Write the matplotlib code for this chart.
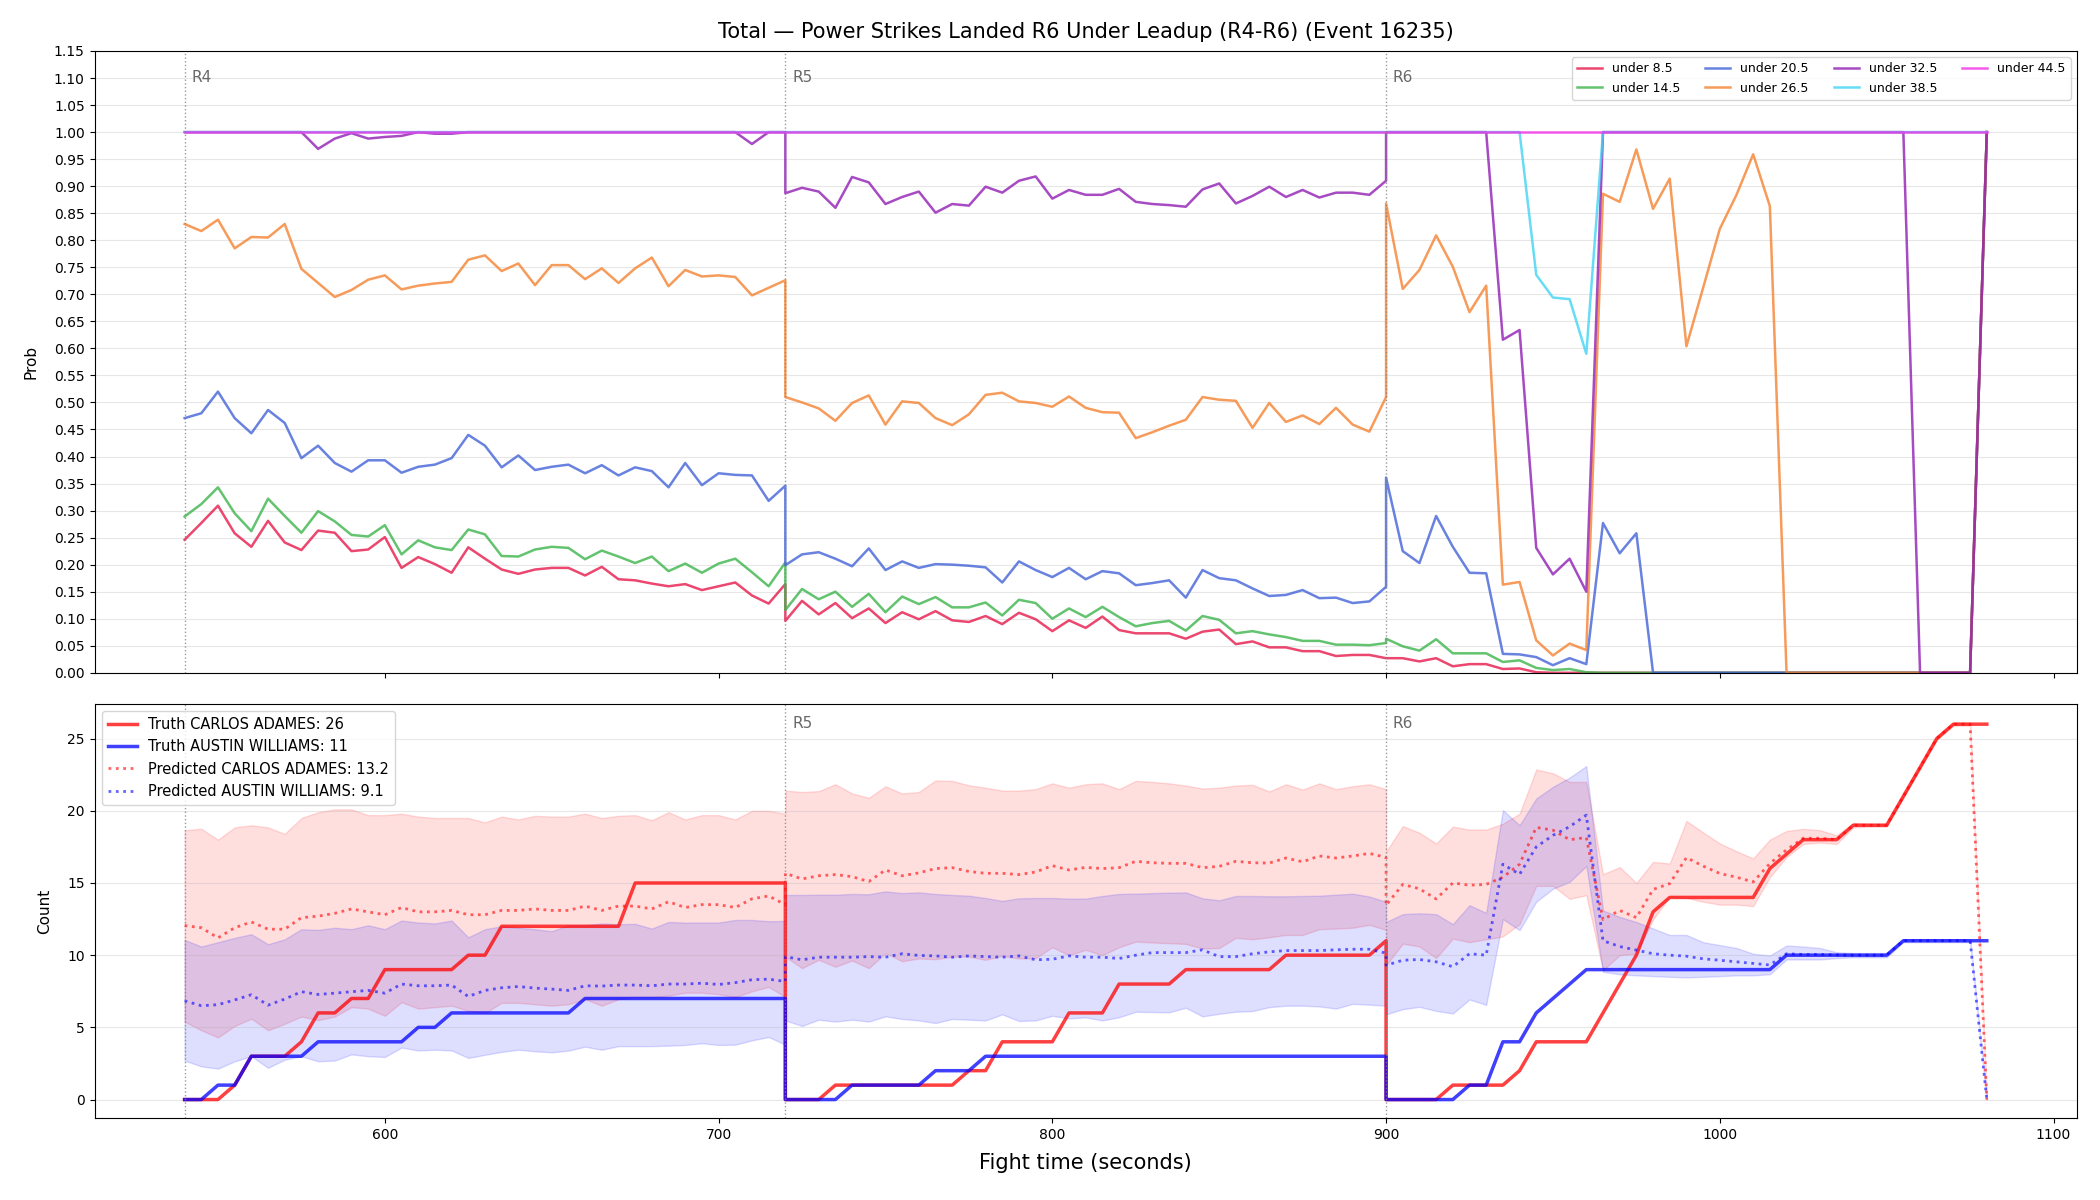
import numpy as np
import matplotlib
matplotlib.use("Agg")
import matplotlib.pyplot as plt
from matplotlib.transforms import blended_transform_factory

# ---------------- time grid ----------------
ROUND_STARTS = [540, 720, 900]
ROUND_NAMES = ["R4", "R5", "R6"]
STEP = 5
PTS_PER_ROUND = 37

# ---------------- top panel: P(total under X) ----------------
u85_r4 = [0.246, 0.277, 0.309, 0.258, 0.233, 0.281, 0.241, 0.227, 0.263, 0.259, 0.225, 0.228, 0.251,
          0.194, 0.214, 0.201, 0.185, 0.232, 0.211, 0.191, 0.183, 0.191, 0.194, 0.194, 0.180, 0.196,
          0.173, 0.171, 0.165, 0.160, 0.164, 0.153, 0.160, 0.167, 0.143, 0.128, 0.164]
u85_r5 = [0.096, 0.133, 0.108, 0.129, 0.101, 0.119, 0.092, 0.112, 0.099, 0.114, 0.097, 0.094, 0.105,
          0.090, 0.111, 0.099, 0.077, 0.097, 0.083, 0.104, 0.079, 0.073, 0.073, 0.073, 0.063, 0.076,
          0.080, 0.053, 0.058, 0.047, 0.047, 0.040, 0.040, 0.031, 0.033, 0.033, 0.027]
u85_r6 = [0.027, 0.027, 0.021, 0.027, 0.012, 0.016, 0.016, 0.007, 0.008, 0.001] + [0.0] * 26 + [1.0]

u145_r4 = [0.289, 0.312, 0.343, 0.295, 0.262, 0.322, 0.290, 0.259, 0.299, 0.280, 0.255, 0.252, 0.273,
           0.219, 0.245, 0.232, 0.227, 0.265, 0.256, 0.216, 0.215, 0.228, 0.233, 0.231, 0.210, 0.226,
           0.215, 0.203, 0.215, 0.188, 0.202, 0.185, 0.202, 0.211, 0.186, 0.160, 0.204]
u145_r5 = [0.116, 0.155, 0.136, 0.150, 0.122, 0.146, 0.112, 0.141, 0.127, 0.140, 0.121, 0.121, 0.130,
           0.106, 0.135, 0.129, 0.100, 0.119, 0.103, 0.122, 0.103, 0.086, 0.092, 0.096, 0.078, 0.105,
           0.098, 0.073, 0.077, 0.071, 0.066, 0.059, 0.059, 0.052, 0.052, 0.051, 0.055]
u145_r6 = [0.063, 0.049, 0.041, 0.062, 0.036, 0.036, 0.036, 0.020, 0.023, 0.009, 0.005, 0.007, 0.001] \
          + [0.0] * 23 + [1.0]

u205_r4 = [0.471, 0.480, 0.520, 0.471, 0.443, 0.486, 0.462, 0.397, 0.420, 0.388, 0.372, 0.393, 0.393,
           0.370, 0.381, 0.385, 0.397, 0.440, 0.420, 0.380, 0.402, 0.375, 0.381, 0.385, 0.369, 0.384,
           0.365, 0.380, 0.373, 0.343, 0.388, 0.347, 0.369, 0.366, 0.365, 0.318, 0.346]
u205_r5 = [0.199, 0.219, 0.223, 0.211, 0.197, 0.230, 0.190, 0.206, 0.194, 0.201, 0.200, 0.198, 0.195,
           0.167, 0.206, 0.190, 0.177, 0.194, 0.173, 0.188, 0.184, 0.162, 0.166, 0.171, 0.139, 0.190,
           0.175, 0.171, 0.156, 0.142, 0.144, 0.153, 0.138, 0.139, 0.129, 0.132, 0.159]
u205_r6 = [0.361, 0.225, 0.203, 0.290, 0.233, 0.185, 0.184, 0.035, 0.034, 0.029, 0.014, 0.027, 0.016,
           0.277, 0.221, 0.258] + [0.0] * 20 + [1.0]

u265_r4 = [0.830, 0.817, 0.838, 0.785, 0.806, 0.805, 0.830, 0.747, 0.721, 0.695, 0.708, 0.727, 0.735,
           0.709, 0.716, 0.720, 0.723, 0.764, 0.772, 0.743, 0.757, 0.717, 0.754, 0.754, 0.728, 0.748,
           0.721, 0.748, 0.768, 0.715, 0.745, 0.733, 0.735, 0.732, 0.698, 0.712, 0.726]
u265_r5 = [0.510, 0.500, 0.489, 0.466, 0.499, 0.513, 0.459, 0.502, 0.499, 0.471, 0.458, 0.478, 0.514,
           0.518, 0.502, 0.499, 0.492, 0.511, 0.490, 0.482, 0.481, 0.434, 0.445, 0.457, 0.468, 0.510,
           0.505, 0.503, 0.453, 0.499, 0.464, 0.476, 0.460, 0.490, 0.459, 0.446, 0.510]
u265_r6 = [0.868, 0.710, 0.745, 0.809, 0.751, 0.667, 0.716, 0.163, 0.168, 0.060, 0.032, 0.054, 0.042,
           0.886, 0.871, 0.968, 0.858, 0.914, 0.604, 0.712, 0.821, 0.884, 0.959, 0.863] + [0.0] * 12 + [1.0]

u325_r4 = [1.0] * 8 + [0.969, 0.988, 0.998, 0.988, 0.991, 0.993, 1.0, 0.997, 0.997] + [1.0] * 17 \
          + [0.978, 1.0, 1.0]
u325_r5 = [0.887, 0.897, 0.890, 0.860, 0.917, 0.907, 0.867, 0.880, 0.890, 0.851, 0.867, 0.864, 0.899,
           0.888, 0.910, 0.918, 0.877, 0.893, 0.884, 0.884, 0.895, 0.871, 0.867, 0.865, 0.862, 0.894,
           0.905, 0.868, 0.882, 0.899, 0.880, 0.893, 0.879, 0.888, 0.888, 0.884, 0.910]
u325_r6 = [1.0] * 7 + [0.616, 0.634, 0.231, 0.182, 0.211, 0.150] + [1.0] * 19 + [0.0] * 4 + [1.0]

u385_r4 = [1.0] * 37
u385_r5 = [1.0] * 37
u385_r6 = [1.0] * 9 + [0.736, 0.694, 0.691, 0.590] + [1.0] * 24

u445_r4 = [1.0] * 37
u445_r5 = [1.0] * 37
u445_r6 = [1.0] * 37

PROB_SERIES = [u85_r4 + u85_r5 + u85_r6,
               u145_r4 + u145_r5 + u145_r6,
               u205_r4 + u205_r5 + u205_r6,
               u265_r4 + u265_r5 + u265_r6,
               u325_r4 + u325_r5 + u325_r6,
               u385_r4 + u385_r5 + u385_r6,
               u445_r4 + u445_r5 + u445_r6]
PROB_LABELS = ["under 8.5", "under 14.5", "under 20.5", "under 26.5",
               "under 32.5", "under 38.5", "under 44.5"]
PROB_COLORS = ["#e6194b", "#3cb44b", "#4363d8", "#f58231", "#911eb4", "#42d4f4", "#f032e6"]

# ---------------- bottom panel: counts ----------------
truth_a_r4 = [0, 0, 0, 1, 3, 3, 3, 4, 6, 6, 7, 7, 9, 9, 9, 9, 9, 10, 10] + [12] * 8 + [15] * 10
truth_a_r5 = [0, 0, 0] + [1] * 8 + [2, 2] + [4] * 4 + [6] * 3 + [8] * 4 + [9] * 6 + [10] * 6 + [11]
truth_a_r6 = [0] * 4 + [1] * 4 + [2] + [4] * 4 + [6, 8, 10, 13] + [14] * 6 + [16, 17, 18, 18, 18,
                                                                             19, 19, 19, 21, 23, 25, 26, 26, 26]
truth_b_r4 = [0, 0, 1, 1] + [3] * 4 + [4] * 6 + [5, 5] + [6] * 8 + [7] * 13
truth_b_r5 = [0] * 4 + [1] * 5 + [2] * 3 + [3] * 25
truth_b_r6 = [0] * 5 + [1, 1, 4, 4, 6, 7, 8] + [9] * 12 + [10] * 7 + [11] * 6

pred_a_r4 = [12.05, 11.9, 11.2, 11.9, 12.3, 11.8, 11.8, 12.6, 12.7, 12.9, 13.2, 13.0, 12.8, 13.3, 13.0,
             13.0, 13.1, 12.8, 12.8, 13.1, 13.1, 13.2, 13.1, 13.1, 13.4, 13.1, 13.4, 13.4, 13.2, 13.7,
             13.3, 13.5, 13.5, 13.3, 13.9, 14.1, 13.5]
pred_a_r5 = [15.67, 15.28, 15.5, 15.58, 15.44, 15.1, 15.9, 15.5, 15.7, 16.0, 16.06, 15.8, 15.67, 15.67,
             15.58, 15.76, 16.2, 15.9, 16.08, 16.0, 16.06, 16.5, 16.4, 16.36, 16.36, 16.06, 16.15, 16.5,
             16.4, 16.38, 16.73, 16.47, 16.87, 16.73, 16.87, 17.05, 16.77]
pred_a_r6 = [13.46, 14.9, 14.6, 13.9, 15.0, 14.85, 14.9, 15.4, 16.3, 18.85, 18.66, 18.0, 18.15, 12.47,
             13.1, 12.6, 14.55, 14.96, 16.76, 16.17, 15.66, 15.4, 15.07, 16.35, 17.3, 18.1, 18.1,
             18, 19, 19, 19, 21, 23, 25, 26, 26, 0]
pred_b_r4 = [6.84, 6.5, 6.57, 6.9, 7.26, 6.54, 6.96, 7.47, 7.28, 7.37, 7.47, 7.56, 7.37, 8.0, 7.88, 7.88,
             7.93, 7.14, 7.56, 7.74, 7.83, 7.72, 7.65, 7.56, 7.88, 7.86, 7.93, 7.93, 7.88, 8.0, 8.0, 8.06,
             7.97, 8.1, 8.3, 8.34, 8.18]
pred_b_r5 = [9.9, 9.68, 9.86, 9.86, 9.86, 9.9, 9.86, 10.1, 9.98, 9.95, 9.86, 9.95, 9.9, 9.86, 9.95, 9.68,
             9.72, 9.95, 9.86, 9.86, 9.77, 10.0, 10.18, 10.18, 10.18, 10.37, 9.9, 9.9, 10.1, 10.23, 10.32,
             10.32, 10.32, 10.37, 10.41, 10.41, 10.14]
pred_b_r6 = [9.3, 9.65, 9.7, 9.54, 9.2, 10.1, 10.0, 16.3, 15.6, 17.5, 18.3, 18.9, 19.7, 11.0, 10.6, 10.35,
             10.1, 10.0, 9.93, 9.75, 9.65, 9.54, 9.43, 9.32, 10.1, 10.05, 10.05, 10.02, 10.0, 10.0, 10.0,
             11, 11, 11, 11, 11, 0]

hi_a_r4 = [18.66, 18.76, 18.0, 18.85, 19.0, 18.85, 18.4, 19.5, 19.9, 20.1, 20.1, 19.7, 19.7, 19.8, 19.6,
           19.5, 19.5, 19.5, 19.2, 19.6, 19.4, 19.65, 19.6, 19.6, 19.8, 19.5, 19.65, 19.7, 19.35, 19.9,
           19.4, 19.7, 19.7, 19.4, 20.0, 20.0, 19.8]
hi_a_r5 = [21.4, 21.3, 21.36, 21.84, 21.2, 20.9, 21.7, 21.2, 21.3, 22.1, 22.07, 21.77, 21.6, 21.4, 21.4,
           21.5, 21.9, 21.6, 21.84, 21.9, 21.5, 22.07, 22.0, 21.9, 21.75, 21.54, 21.6, 21.75, 21.8, 21.34,
           21.84, 21.47, 21.9, 21.5, 21.7, 21.84, 21.5]
hi_a_r6 = [17.16, 18.94, 18.48, 17.74, 18.9, 18.7, 18.7, 19.1, 19.8, 22.86, 22.6, 22.0, 22.0, 15.6, 16.1,
           15.0, 16.46, 16.35, 19.3, 18.5, 17.74, 17.2, 16.7, 18.0, 18.6, 18.75, 18.66,
           18.3, 19.15, 19.1, 19.1, 21.1, 23.1, 25.1, 26.1, 26.1, 0]
lo_a_r4 = [5.4, 4.8, 4.3, 5.1, 5.6, 4.8, 5.25, 5.75, 5.5, 5.75, 6.4, 6.3, 5.8, 6.75, 6.3, 6.4, 6.5, 6.15,
           6.0, 6.7, 6.7, 6.6, 6.5, 6.6, 6.95, 6.5, 6.95, 7.1, 7.1, 7.2, 7.4, 7.4, 7.3, 7.1, 7.5, 7.8, 7.1]
lo_a_r5 = [9.9, 9.1, 9.68, 9.2, 9.63, 9.1, 10.14, 9.58, 9.77, 9.72, 9.9, 9.9, 9.68, 9.95, 9.77, 9.8,
           10.55, 10.0, 10.37, 10.0, 10.55, 10.94, 10.88, 10.83, 10.78, 10.46, 10.5, 11.2, 11.1, 11.24,
           11.4, 11.4, 11.8, 11.84, 11.9, 12.1, 11.75]
lo_a_r6 = [9.3, 10.8, 10.6, 9.8, 11.15, 10.9, 11.1, 11.3, 12.15, 14.8, 14.8, 13.9, 14.15, 8.96, 10.0,
           10.1, 12.47, 14.04, 13.97, 13.7, 13.5, 13.5, 13.4, 15.4, 16.8, 17.7, 17.8,
           17.7, 18.85, 18.9, 18.9, 20.9, 22.9, 24.9, 25.9, 25.9, 0]

hi_b_r4 = [11.06, 10.6, 10.9, 11.2, 11.45, 10.76, 11.1, 11.8, 11.75, 11.9, 11.8, 12.07, 11.8, 12.4, 12.26,
           12.2, 12.4, 11.24, 11.8, 12.0, 11.9, 11.8, 11.66, 12.07, 12.07, 12.2, 12.14, 12.17, 11.84,
           12.3, 12.26, 12.26, 12.26, 12.44, 12.44, 12.35, 12.37]
hi_b_r5 = [14.17, 14.17, 14.19, 14.19, 14.24, 14.22, 14.42, 14.3, 14.35, 14.24, 14.17, 14.12, 13.96,
           13.76, 13.94, 13.96, 13.96, 13.92, 13.92, 14.1, 14.24, 14.26, 14.3, 14.33, 14.35, 13.94, 13.8,
           14.1, 14.1, 14.08, 14.08, 14.1, 14.12, 14.19, 14.26, 14.06, 13.7]
hi_b_r6 = [12.3, 12.84, 12.9, 12.84, 12.15, 13.46, 12.93, 20.05, 19.0, 20.85, 21.66, 22.3, 23.1, 13.1,
           12.65, 12.3, 11.85, 11.4, 11.4, 10.9, 10.7, 10.5, 10.1, 9.98, 10.67, 10.6, 10.5,
           10.2, 10.15, 10.15, 10.15, 11.1, 11.1, 11.1, 11.1, 11.1, 0]
lo_b_r4 = [2.7, 2.3, 2.14, 2.65, 3.0, 2.2, 2.76, 3.0, 2.65, 2.7, 3.13, 3.0, 2.95, 3.6, 3.4, 3.45, 3.4,
           2.88, 3.1, 3.3, 3.45, 3.34, 3.27, 3.39, 3.66, 3.45, 3.7, 3.7, 3.7, 3.73, 3.78, 3.9, 3.78, 3.8,
           4.1, 4.33, 3.8]
lo_b_r5 = [5.48, 5.1, 5.53, 5.4, 5.53, 5.4, 5.76, 5.58, 5.48, 5.3, 5.58, 5.53, 5.48, 5.9, 5.44, 5.48,
           5.8, 5.62, 5.69, 5.48, 5.7, 6.08, 6.06, 6.04, 6.36, 5.76, 5.94, 6.08, 6.13, 6.4, 6.5, 6.5, 6.45,
           6.3, 6.63, 6.57, 6.5]
lo_b_r6 = [5.9, 6.26, 6.42, 6.14, 5.96, 6.93, 6.56, 12.5, 11.73, 13.7, 14.6, 15.08, 16.17, 8.85, 8.68,
           8.6, 8.55, 8.5, 8.46, 8.5, 8.55, 8.6, 8.6, 8.68, 9.7, 9.7, 9.7,
           9.8, 9.85, 9.85, 9.85, 10.9, 10.9, 10.9, 10.9, 10.9, 0]

FIGHTER_A = "CARLOS ADAMES"
FIGHTER_B = "AUSTIN WILLIAMS"
FINAL_TRUTH = [26, 11]
FINAL_PRED = [13.2, 9.1]
TITLE = "Total \u2014 Power Strikes Landed R6 Under Leadup (R4-R6) (Event 16235)"

# ---------------- assemble ----------------
t = np.concatenate([np.arange(s, s + STEP * PTS_PER_ROUND, STEP) for s in ROUND_STARTS])
truth_a = np.array(truth_a_r4 + truth_a_r5 + truth_a_r6, dtype=float)
truth_b = np.array(truth_b_r4 + truth_b_r5 + truth_b_r6, dtype=float)
pred_a = np.array(pred_a_r4 + pred_a_r5 + pred_a_r6)
pred_b = np.array(pred_b_r4 + pred_b_r5 + pred_b_r6)
hi_a = np.array(hi_a_r4 + hi_a_r5 + hi_a_r6)
lo_a = np.array(lo_a_r4 + lo_a_r5 + lo_a_r6)
hi_b = np.array(hi_b_r4 + hi_b_r5 + hi_b_r6)
lo_b = np.array(lo_b_r4 + lo_b_r5 + lo_b_r6)

fig, (ax1, ax2) = plt.subplots(2, 1, figsize=(21, 12), dpi=100, sharex=True,
                               gridspec_kw={"height_ratios": [3, 2], "hspace": 0.06})
fig.subplots_adjust(left=0.045, right=0.989, top=0.9575, bottom=0.068)

# top panel
for vals, lab, col in zip(PROB_SERIES, PROB_LABELS, PROB_COLORS):
    ax1.plot(t, vals, color=col, lw=1.8, alpha=0.8, label=lab)
ax1.set_ylim(0, 1.15)
ax1.set_yticks(np.arange(0, 1.151, 0.05))
ax1.yaxis.set_major_formatter(matplotlib.ticker.FormatStrFormatter("%.2f"))
ax1.grid(axis="y", alpha=0.3)
ax1.set_ylabel("Prob", fontsize=11, labelpad=11)
ax1.set_title(TITLE, fontsize=15, pad=9)
ax1.legend(loc="upper right", ncol=4, fontsize=9)

# bottom panel
ax2.fill_between(t, lo_a, hi_a, color="red", alpha=0.13)
ax2.fill_between(t, lo_b, hi_b, color="blue", alpha=0.13)
ax2.plot(t, truth_a, color="red", lw=2.5, alpha=0.75, label=f"Truth {FIGHTER_A}: {FINAL_TRUTH[0]}")
ax2.plot(t, truth_b, color="blue", lw=2.5, alpha=0.75, label=f"Truth {FIGHTER_B}: {FINAL_TRUTH[1]}")
ax2.plot(t, pred_a, color="red", lw=2, ls=":", alpha=0.6, label=f"Predicted {FIGHTER_A}: {FINAL_PRED[0]}")
ax2.plot(t, pred_b, color="blue", lw=2, ls=":", alpha=0.6, label=f"Predicted {FIGHTER_B}: {FINAL_PRED[1]}")
ax2.grid(axis="y", alpha=0.3)
ax2.set_ylabel("Count", fontsize=11, labelpad=11)
ax2.set_xlabel("Fight time (seconds)", fontsize=15, labelpad=8)

for ax, names_shown in ((ax1, ROUND_NAMES), (ax2, ROUND_NAMES[1:])):
    tr = blended_transform_factory(ax.transData, ax.transAxes)
    for s, name in zip(ROUND_STARTS, ROUND_NAMES):
        ax.axvline(s, color="gray", ls=":", lw=1, alpha=0.8)
        if name in names_shown:
            ax.text(s + 2, 0.97, name, transform=tr, va="top", ha="left", color="dimgray", fontsize=11)

ax2.legend(loc="upper left", fontsize=10.5)

fig.savefig("out.png", dpi=100)
